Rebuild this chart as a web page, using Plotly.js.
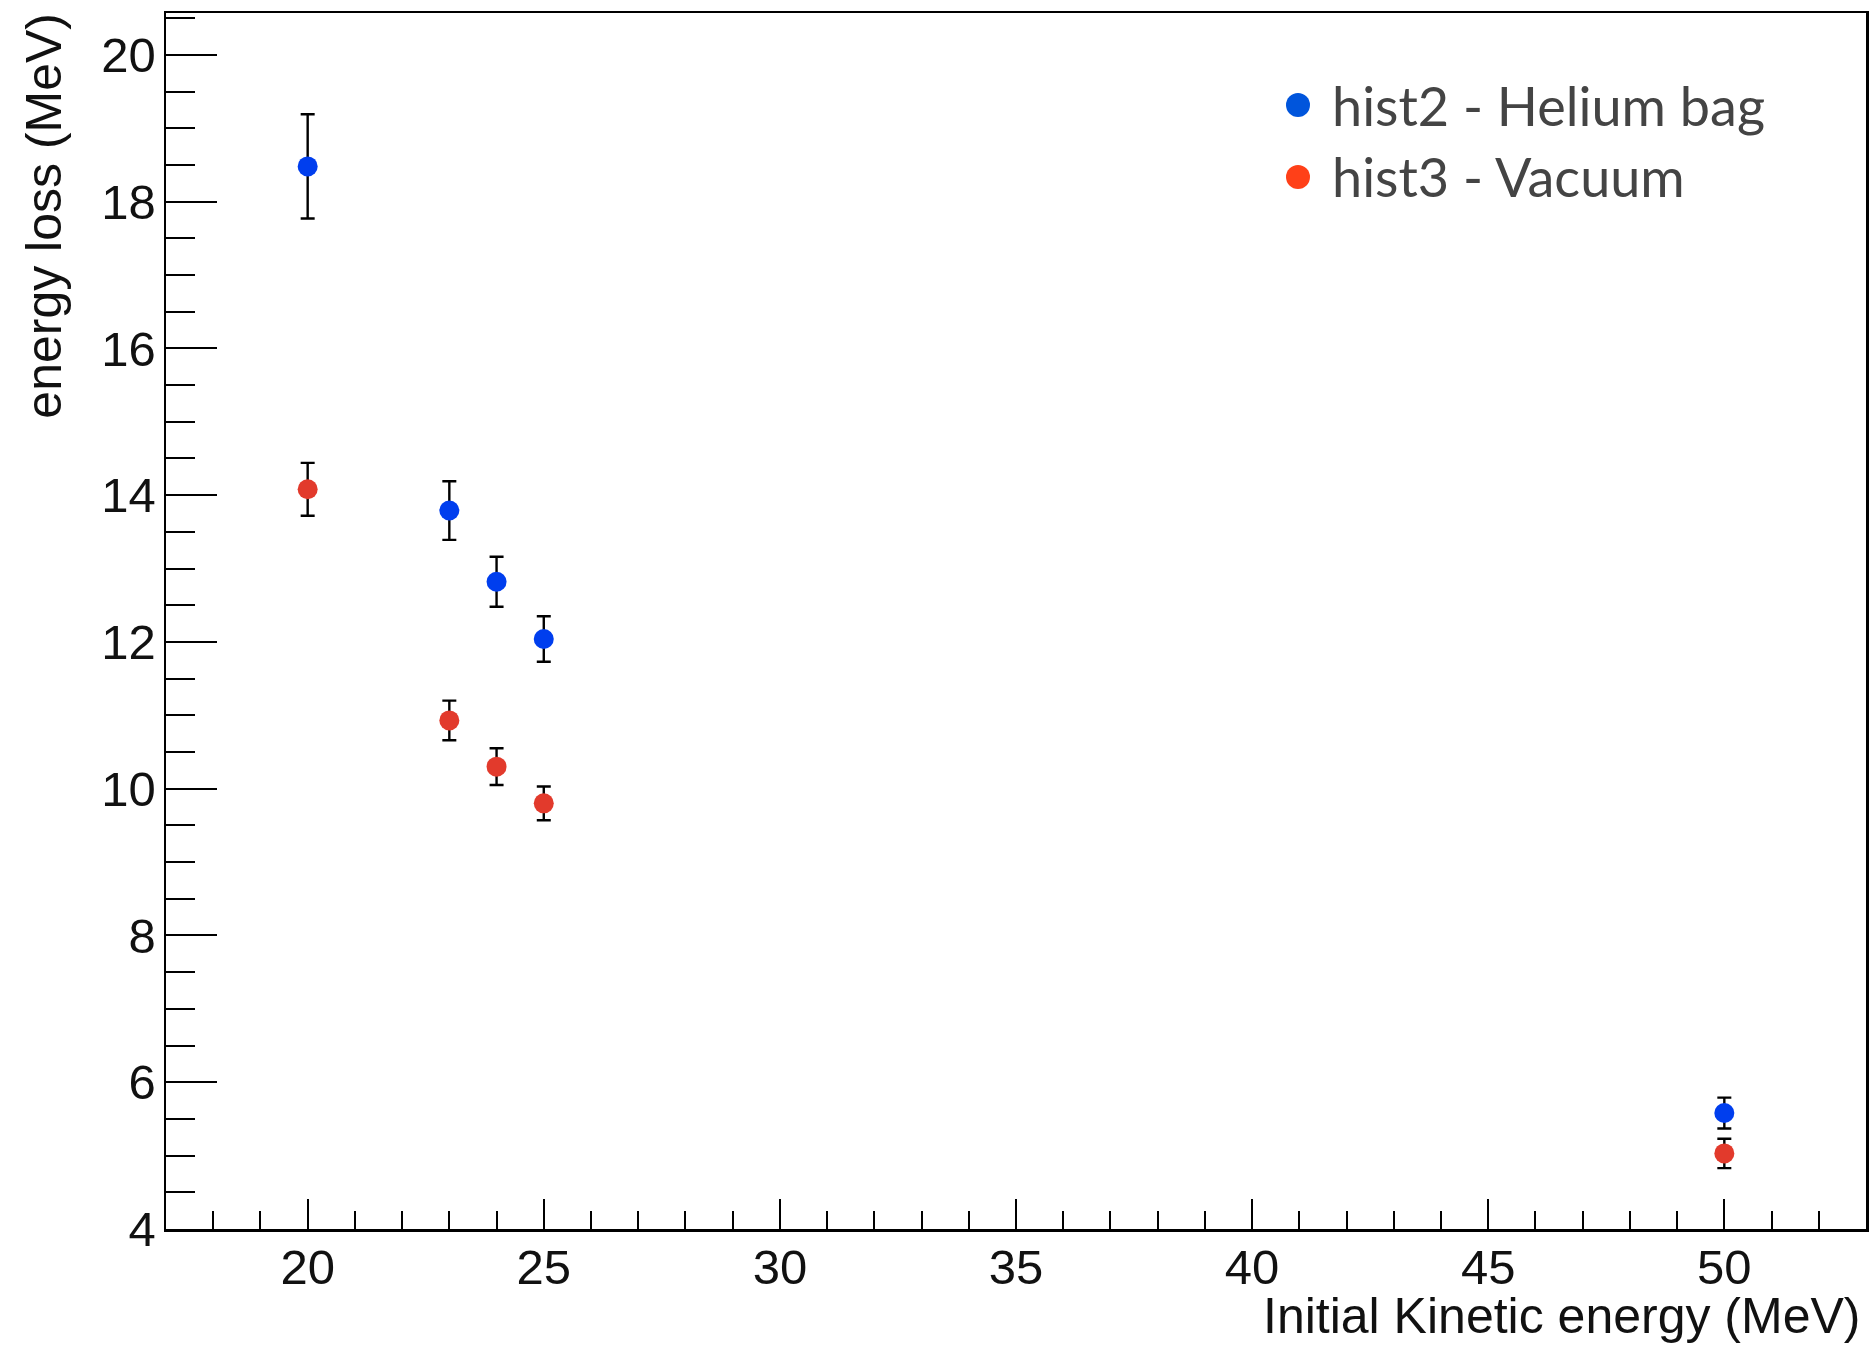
<!DOCTYPE html>
<html>
<head>
<meta charset="utf-8">
<script src="https://cdn.plot.ly/plotly-3.0.1.min.js"></script>
<style>html,body{margin:0;padding:0;background:#fff;}#chart{width:1875px;height:1347px;}</style>
</head>
<body>
<div id="chart"></div>
<script>
// Data
const energies = [20, 23, 24, 25, 50];
const heliumLoss = [18.48, 13.79, 12.82, 12.04, 5.58];
const heliumErr = [0.71, 0.40, 0.34, 0.31, 0.21];
const vacuumLoss = [14.08, 10.93, 10.30, 9.80, 5.03];
const vacuumErr = [0.36, 0.27, 0.25, 0.23, 0.20];
const seriesNames = ["hist2 - Helium bag", "hist3 - Vacuum"];
const xTitle = "Initial Kinetic energy (MeV)";
const yTitle = "energy loss (MeV)";

const blue = "rgb(0,62,238)";
const red = "rgb(226,58,44)";
const legendBlue = "rgb(0,85,220)";
const legendRed = "rgb(255,64,24)";

const errStyle = (arr) => ({type: "data", array: arr, visible: true, color: "#000", thickness: 2.4, width: 7});

const traces = [
  {x: energies, y: heliumLoss, name: seriesNames[0], type: "scatter", mode: "markers",
   marker: {color: blue, size: 20, symbol: "circle"}, error_y: errStyle(heliumErr), showlegend: false},
  {x: energies, y: vacuumLoss, name: seriesNames[1], type: "scatter", mode: "markers",
   marker: {color: red, size: 20, symbol: "circle"}, error_y: errStyle(vacuumErr), showlegend: false}
];

const tickFont = {family: "Liberation Sans, Arial, sans-serif", size: 49, color: "#111"};
const legendFont = {family: "Lato, Open Sans, sans-serif", size: 54, color: "#444"};
const titleFont = {family: "Liberation Sans, Arial, sans-serif", size: 50, color: "#111"};

const layout = {
  width: 1875, height: 1347,
  margin: {l: 166, r: 9, t: 13, b: 118, pad: 0},
  paper_bgcolor: "#fff", plot_bgcolor: "#fff",
  showlegend: false,
  xaxis: {
    range: [17, 53], tick0: 0, dtick: 5, ticks: "inside", ticklen: 30, tickwidth: 2, tickcolor: "#000",
    minor: {dtick: 1, ticks: "inside", ticklen: 18, tickwidth: 2, tickcolor: "#000"},
    showline: true, linecolor: "#000", linewidth: 2.5, mirror: true,
    showgrid: false, zeroline: false, tickfont: tickFont, ticklabelstandoff: -6
  },
  yaxis: {
    range: [4, 20.57], tick0: 0, dtick: 2, ticks: "inside", ticklen: 51, tickwidth: 2, tickcolor: "#000",
    minor: {dtick: 0.5, ticks: "inside", ticklen: 29, tickwidth: 2, tickcolor: "#000"},
    showline: true, linecolor: "#000", linewidth: 2.5, mirror: true,
    showgrid: false, zeroline: false, tickfont: tickFont, ticklabelstandoff: -2
  },
  annotations: [
    {text: xTitle, xref: "paper", yref: "paper", x: 0.9976, y: -0.0715, xanchor: "right", yanchor: "middle",
     showarrow: false, font: titleFont},
    {text: yTitle, xref: "paper", yref: "paper", x: -0.072, y: 0.833, xanchor: "center", yanchor: "middle",
     textangle: -90, showarrow: false, font: titleFont},
    {text: seriesNames[0], xref: "paper", yref: "paper", x: (1330 - 166) / 1700, y: (1229 - 105) / 1216,
     xanchor: "left", yanchor: "middle", showarrow: false, font: legendFont},
    {text: seriesNames[1], xref: "paper", yref: "paper", x: (1330 - 166) / 1700, y: (1229 - 177) / 1216,
     xanchor: "left", yanchor: "middle", showarrow: false, font: legendFont}
  ],
  shapes: [
    {type: "circle", xref: "paper", yref: "paper", xsizemode: "pixel", ysizemode: "pixel",
     xanchor: (1298 - 166) / 1700, yanchor: (1229 - 105) / 1216, x0: -12, x1: 12, y0: -12, y1: 12,
     fillcolor: legendBlue, line: {width: 0}},
    {type: "circle", xref: "paper", yref: "paper", xsizemode: "pixel", ysizemode: "pixel",
     xanchor: (1298 - 166) / 1700, yanchor: (1229 - 177) / 1216, x0: -12, x1: 12, y0: -12, y1: 12,
     fillcolor: legendRed, line: {width: 0}}
  ]
};

Plotly.newPlot("chart", traces, layout, {staticPlot: true, displayModeBar: false});
</script>
</body>
</html>
